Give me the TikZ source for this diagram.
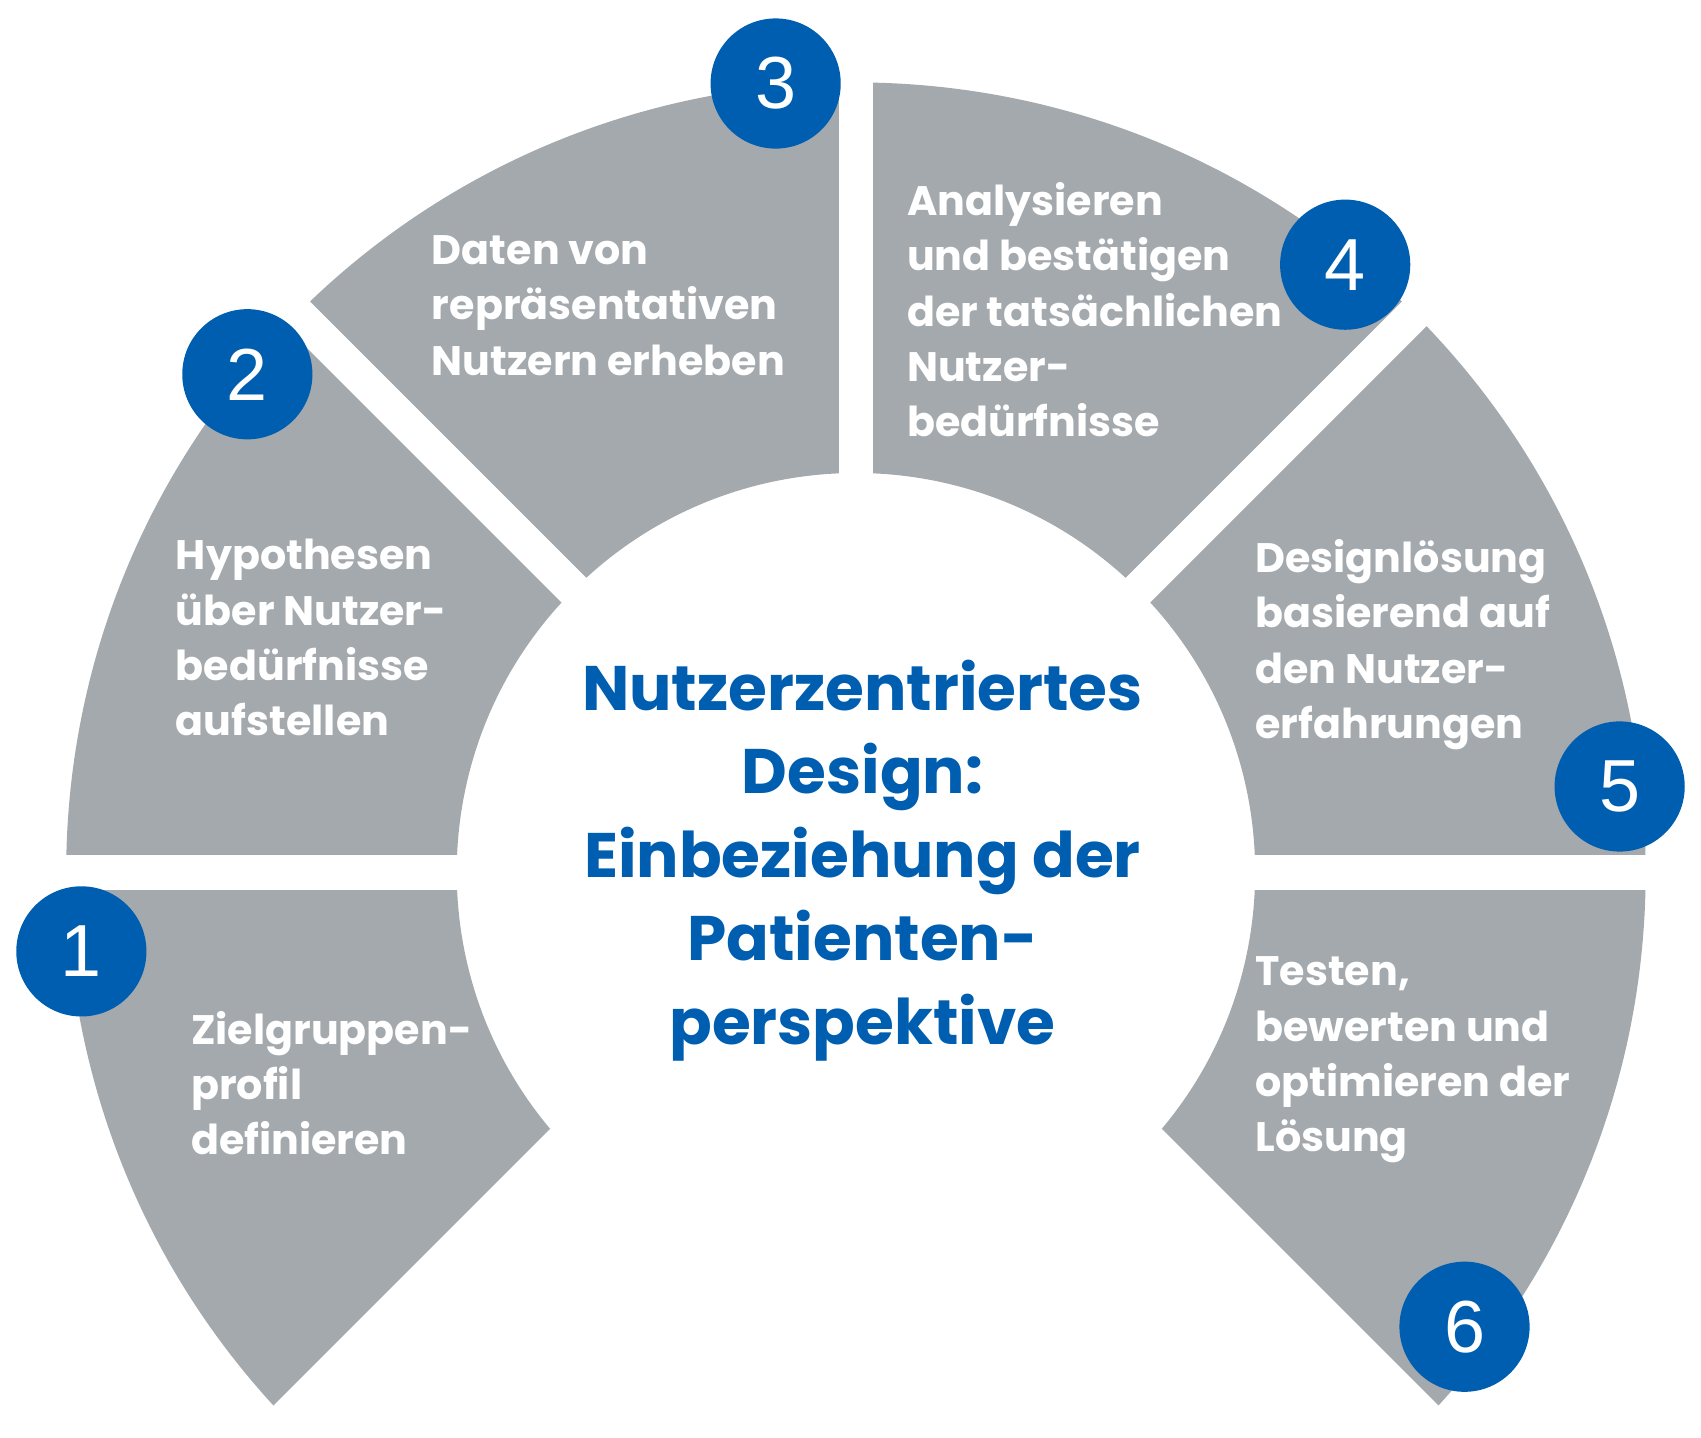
\documentclass[tikz,border=0pt]{standalone}
\usepackage{fontspec}
\setmainfont{Poppins}
\newfontfamily\numfont{Liberation Sans}
\usetikzlibrary{calc}
\definecolor{seg}{HTML}{A3A9AD}
\definecolor{myblue}{HTML}{005EB0}
\begin{document}
\begin{tikzpicture}[x=1pt,y=1pt,
  num/.style={circle,fill=myblue,minimum size=120pt,inner sep=0pt,text=white,font=\numfont\fontsize{68}{68}\selectfont},
  lbl/.style={anchor=north west,inner sep=0pt,align=left,text=white,font=\fontsize{38}{51}\selectfont\bfseries},
  gap/.style={white,line width=32pt}]
\useasboundingbox (0,0) rectangle (1568,1325);
\coordinate (c) at (789,521);
\fill[seg] ($(c)+(-45:728)$) arc[start angle=-45,end angle=225,radius=728] -- ($(c)+(225:368)$) arc[start angle=225,end angle=-45,radius=368] -- cycle;
\foreach \a in {0,45,90,135,180} \draw[gap] (c) -- +(\a:800);
\draw[white,line width=64pt] (c) -- +(225:800);
\draw[white,line width=64pt] (c) -- +(-45:800);
\node[lbl] (t1) at (176,393) {Zielgruppen-\\profil\\definieren};
\node[lbl] (t2) at (162,828) {Hypothesen\\über Nutzer-\\bedürfnisse\\aufstellen};
\node[lbl] (t3) at (398,1108) {Daten von\\repräsentativen\\Nutzern erheben};
\node[lbl] (t4) at (836,1157) {Analysieren\\und bestätigen\\der tatsächlichen\\Nutzer-\\bedürfnisse};
\node[lbl] (t5) at (1157,828) {Designlösung\\basierend auf\\den Nutzer-\\erfahrungen};
\node[lbl] (t6) at (1157,443) {Testen,\\bewerten und\\optimieren der\\Lösung};
\node[anchor=north,inner sep=0pt,align=center,text=myblue,font=\fontsize{58}{77}\selectfont\bfseries] (title) at (795,717) {Nutzerzentriertes\\Design:\\Einbeziehung der\\Patienten-\\perspektive};
\node[num] (n1) at (75,448) {1};
\node[num] (n2) at (228,980) {2};
\node[num] (n3) at (715,1248) {3};
\node[num] (n4) at (1240,1081) {4};
\node[num] (n5) at (1493,600) {5};
\node[num] (n6) at (1350,102) {6};
\end{tikzpicture}
\end{document}
